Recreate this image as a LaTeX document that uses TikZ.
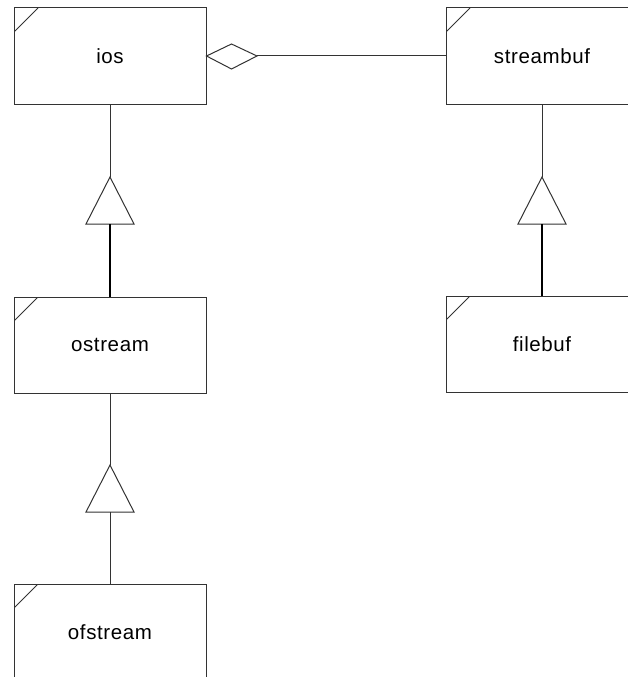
\documentclass[tikz,border=0pt]{standalone}
\usepackage{fontspec}
\setmainfont{Liberation Sans}[LetterSpace=3]
\definecolor{lc}{HTML}{333333}
\begin{document}
\begin{tikzpicture}[x=1pt,y=-1pt,
  classbox/.style={draw=lc, line width=1pt, minimum width=192pt, minimum height=96pt,
    inner sep=0pt, font=\fontsize{20.5}{24}\selectfont,
    path picture={\draw[lc, line width=0.9pt] (path picture bounding box.north west) ++(0,24) -- ++(24,-24);}},
  conn/.style={draw=lc, line width=1pt},
  inh/.style={draw=lc, line width=1pt, fill=white, line join=miter}]
\useasboundingbox (0,0) rectangle (628,677);
\clip (0,0) rectangle (628,677);
\node[classbox] (ios) at (110,56) {ios};
\node[classbox] (streambuf) at (542,56) {streambuf};
\node[classbox] (ostream) at (110,345) {ostream};
\node[classbox] (filebuf) at (542,344) {filebuf};
\node[classbox] (ofstream) at (110,632) {ofstream};
% aggregation diamond
\coordinate (dl) at (ios.east);
\coordinate (dr) at (257,56);
\draw[inh] (dl) -- (231.5,44) -- (dr) -- (231.5,69) -- cycle;
\draw[conn] (dr) -- (streambuf.west);
% inheritance ios <- ostream
\coordinate (t1) at (110,177);
\coordinate (t1b) at (110,224);
\draw[conn] (ios.south) -- (t1);
\draw[inh] (t1) -- (86,224) -- (134,224) -- cycle;
\draw[conn, line width=1.2pt, draw=black] (t1b) -- (ostream.north);
% inheritance ostream <- ofstream
\coordinate (t2) at (110,465);
\coordinate (t2b) at (110,512);
\draw[conn] (ostream.south) -- (t2);
\draw[inh] (t2) -- (86,512) -- (134,512) -- cycle;
\draw[conn] (t2b) -- (ofstream.north);
% inheritance streambuf <- filebuf
\coordinate (t3) at (542,177);
\coordinate (t3b) at (542,224);
\draw[conn] (streambuf.south) -- (t3);
\draw[inh] (t3) -- (518,224) -- (566,224) -- cycle;
\draw[conn, line width=1.2pt, draw=black] (t3b) -- (filebuf.north);
\end{tikzpicture}
\end{document}
